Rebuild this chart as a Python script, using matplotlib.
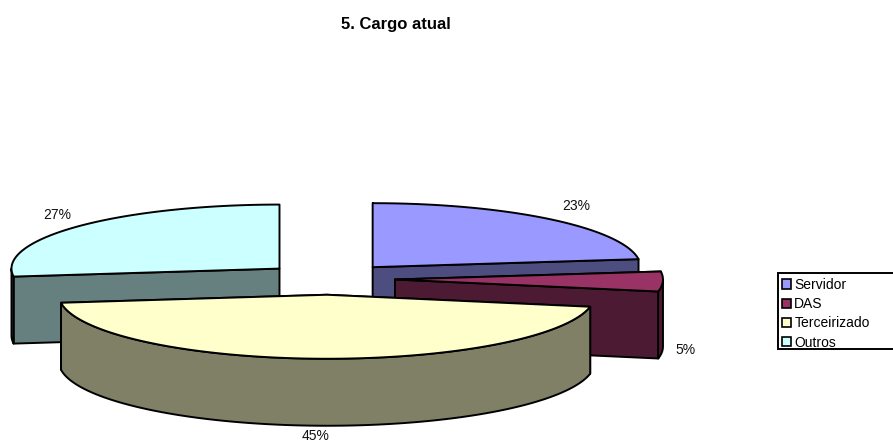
import numpy as np
import matplotlib
matplotlib.use("Agg")
import matplotlib.pyplot as plt
from matplotlib.patches import Patch, Rectangle

plt.rcParams['font.family'] = ['Liberation Sans', 'DejaVu Sans']

categories = ["Servidor", "DAS", "Terceirizado", "Outros"]
values = [23, 5, 45, 27]
top_colors = ["#9999FF", "#993366", "#FFFFCC", "#CCFFFF"]
side_colors = ["#4D4D80", "#4D1A33", "#808066", "#668080"]
label_pos = [(576, 206), (686, 350), (316, 436), (57, 215)]

# pie geometry in pixels
cx0, cy0 = 329, 279
rx, ry = 268, 64
depth = 67
explode = 66
line = 1.4


def pt(cx, cy, ang):
    # angle in degrees, clockwise from 12 o'clock
    a = np.radians(ang)
    return cx + rx * np.sin(a), cy - ry * np.cos(a)


def draw_slice(i, start, end):
    mid = np.radians((start + end) / 2)
    cx = cx0 + explode * np.sin(mid)
    cy = cy0 - explode * ry / rx * np.cos(mid)
    xs, ys = pt(cx, cy, np.linspace(start, end, 120))

    # radial walls, first the one that ends further back
    for ang in sorted([start, end], key=lambda d: -np.cos(np.radians(d))):
        x1, y1 = pt(cx, cy, ang)
        ax.fill([cx, x1, x1, cx], [cy, y1, y1 + depth, cy + depth],
                fc=side_colors[i], ec="black", lw=line, joinstyle="round")

    # outer wall, only the front half of the ellipse shows
    front = np.linspace(max(start, 90), min(end, 270), 120)
    if front[-1] > front[0]:
        fx, fy = pt(cx, cy, front)
        ax.fill(np.r_[fx, fx[::-1]], np.r_[fy, fy[::-1] + depth],
                fc=side_colors[i], ec="black", lw=line, joinstyle="round")

    ax.fill(np.r_[cx, xs], np.r_[cy, ys], fc=top_colors[i], ec="black",
            lw=line, joinstyle="round")


fig = plt.figure(figsize=(8.93, 4.43), dpi=100)
ax = fig.add_axes([0, 0, 1, 1])
ax.set_xlim(0, 893)
ax.set_ylim(443, 0)
ax.axis("off")

edges = np.cumsum([0] + values) * 3.6
# back slices first so the big front one covers them
for i in [0, 3, 1, 2]:
    draw_slice(i, edges[i], edges[i + 1])

for i, (x, y) in enumerate(label_pos):
    ax.text(x, y, f"{values[i]}%", fontsize=10, ha="center", va="center",
            color="#111111")

ax.text(396, 24, "5. Cargo atual", fontsize=12, fontweight="bold",
        ha="center", va="center")

ax.add_patch(Rectangle((778, 273), 120, 76, fc="white", ec="black", lw=1.4))
handles = [Patch(fc=c, ec="black", lw=1.2) for c in top_colors]
ax.legend(handles, categories, loc="upper left", bbox_to_anchor=(779, 275),
          bbox_transform=ax.transData, frameon=False, fontsize=10,
          borderpad=0.2, borderaxespad=0, handlelength=0.65, handleheight=0.65,
          handletextpad=0.25, labelspacing=0.38)

fig.savefig("out.png", dpi=100)
